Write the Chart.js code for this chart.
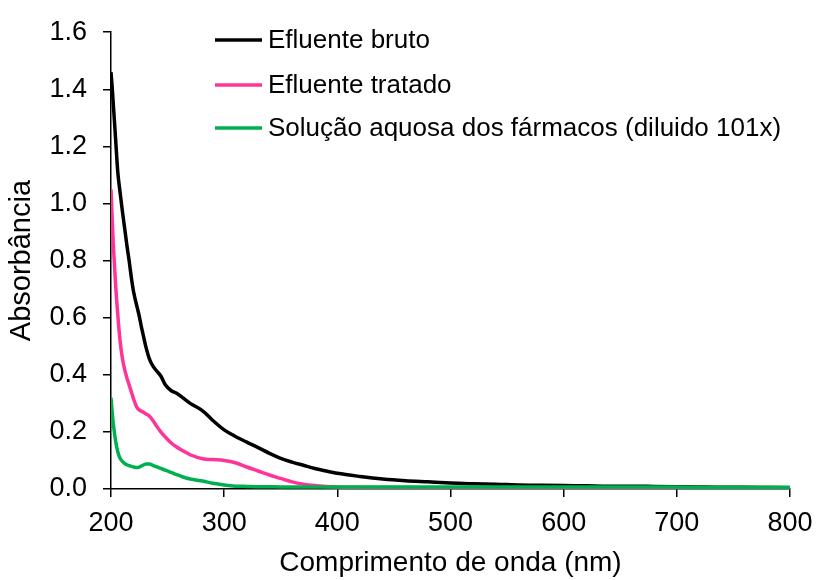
<!DOCTYPE html>
<html>
<head>
<meta charset="utf-8">
<script src="https://cdn.jsdelivr.net/npm/chart.js@4/dist/chart.umd.min.js"></script>
<style>
  html, body { margin: 0; padding: 0; background: #ffffff; }
  #wrap { width: 819px; height: 580px; }
</style>
</head>
<body>
<div id="wrap"><canvas id="c" width="819" height="580"></canvas></div>
<script>
// Wavelength grid (nm)
const wavelengths = [200,201,202,204,206,208,210,212,214,216,218,220,223,225,227,229,231,234,237,240,244,248,253,258,263,270,281,290,300,310,320,330,340,350,360,370,380,390,400,420,440,460,480,500,520,540,560,580,600,620,640,660,680,700,720,740,760,780,800];

// Absorbance of each sample
const efluenteBruto   = [1.46,1.41,1.35,1.23,1.11,1.04,0.975,0.915,0.855,0.80,0.74,0.69,0.638,0.605,0.565,0.53,0.495,0.455,0.431,0.415,0.396,0.365,0.345,0.335,0.321,0.30,0.274,0.24,0.207,0.184,0.164,0.145,0.125,0.107,0.094,0.083,0.072,0.063,0.055,0.044,0.035,0.029,0.025,0.021,0.018,0.017,0.014,0.013,0.012,0.011,0.010,0.010,0.009,0.008,0.007,0.006,0.006,0.005,0.004];
const efluenteTratado = [1.05,0.95,0.86,0.72,0.61,0.52,0.46,0.42,0.39,0.365,0.34,0.315,0.285,0.277,0.272,0.268,0.263,0.255,0.24,0.222,0.2,0.182,0.162,0.147,0.135,0.12,0.106,0.103,0.100,0.092,0.077,0.063,0.049,0.037,0.025,0.017,0.012,0.009,0.007,0.006,0.005,0.005,0.004,0.004,0.004,0.004,0.003,0.003,0.003,0.003,0.003,0.003,0.003,0.003,0.003,0.003,0.003,0.003,0.003];
const solucaoAquosa   = [0.32,0.27,0.23,0.17,0.13,0.108,0.097,0.09,0.085,0.082,0.079,0.077,0.075,0.077,0.081,0.085,0.088,0.088,0.083,0.078,0.072,0.066,0.058,0.05,0.043,0.035,0.028,0.02,0.014,0.010,0.009,0.008,0.008,0.007,0.007,0.007,0.007,0.007,0.007,0.007,0.007,0.007,0.007,0.007,0.007,0.007,0.007,0.007,0.007,0.007,0.007,0.007,0.007,0.007,0.006,0.006,0.006,0.006,0.006];

// Axis ticks
const xTicks = [200,300,400,500,600,700,800];
const yTicks = [0,0.2,0.4,0.6,0.8,1.0,1.2,1.4,1.6];

const seriesNames  = ['Efluente bruto','Efluente tratado','Solução aquosa dos fármacos (diluido 101x)'];
const seriesColors = ['#000000','#FF3399','#00B050'];
const seriesValues = [efluenteBruto, efluenteTratado, solucaoAquosa];

const FONT = '"Liberation Sans", Arial, sans-serif';

const datasets = seriesValues.map((vals, i) => ({
  label: seriesNames[i],
  data: wavelengths.map((w, k) => ({ x: w, y: vals[k] })),
  borderColor: seriesColors[i],
  backgroundColor: seriesColors[i],
  borderWidth: 3.5,
  pointRadius: 0,
  fill: false,
  cubicInterpolationMode: 'monotone',
  order: seriesValues.length - i   // later series drawn on top
}));

// Legend drawn inside the plot area
const insideLegend = {
  id: 'insideLegend',
  afterDraw(chart) {
    const ctx = chart.ctx;
    const x0 = 215, x1 = 262, tx = 268;
    const rows = [40, 85, 128];
    ctx.save();
    ctx.font = '26px ' + FONT;
    ctx.textBaseline = 'middle';
    ctx.textAlign = 'left';
    chart.data.datasets.forEach((ds, i) => {
      ctx.strokeStyle = ds.borderColor;
      ctx.lineWidth = 3.5;
      ctx.beginPath();
      ctx.moveTo(x0, rows[i]);
      ctx.lineTo(x1, rows[i]);
      ctx.stroke();
      ctx.fillStyle = '#000000';
      ctx.fillText(ds.label, tx, rows[i] + 1);
    });
    ctx.restore();
  }
};

new Chart(document.getElementById('c'), {
  type: 'line',
  data: { datasets },
  plugins: [insideLegend],
  options: {
    responsive: false,
    animation: false,
    layout: { padding: { left: 0, top: 25, right: 29, bottom: 0 } },
    plugins: { legend: { display: false }, tooltip: { enabled: false } },
    scales: {
      x: {
        type: 'linear',
        min: 200, max: 800,
        afterBuildTicks: s => { s.ticks = xTicks.map(v => ({ value: v })); },
        afterFit: s => { s.height = 91; s.paddingRight = 0; s.paddingLeft = 0; },
        ticks: { color: '#000', font: { family: FONT, size: 27 }, padding: 10, maxRotation: 0 },
        grid: { drawOnChartArea: false, drawTicks: true, tickLength: 8, color: '#000', lineWidth: 1.5 },
        border: { color: '#000', width: 1.5 },
        title: { display: true, text: 'Comprimento de onda (nm)', color: '#000', font: { family: FONT, size: 28 }, padding: { top: 0, bottom: 0 } }
      },
      y: {
        type: 'linear',
        min: 0, max: 1.6,
        afterBuildTicks: s => { s.ticks = yTicks.map(v => ({ value: v })); },
        afterFit: s => { s.width = 111; },
        ticks: { color: '#000', font: { family: FONT, size: 27 }, padding: 16, callback: v => v.toFixed(1) },
        grid: { drawOnChartArea: false, drawTicks: true, tickLength: 8, color: '#000', lineWidth: 1.5 },
        border: { color: '#000', width: 1.5 },
        title: { display: true, text: 'Absorbância', color: '#000', font: { family: FONT, size: 29 }, padding: { top: 5, bottom: 0 } }
      }
    }
  }
});
</script>
</body>
</html>
